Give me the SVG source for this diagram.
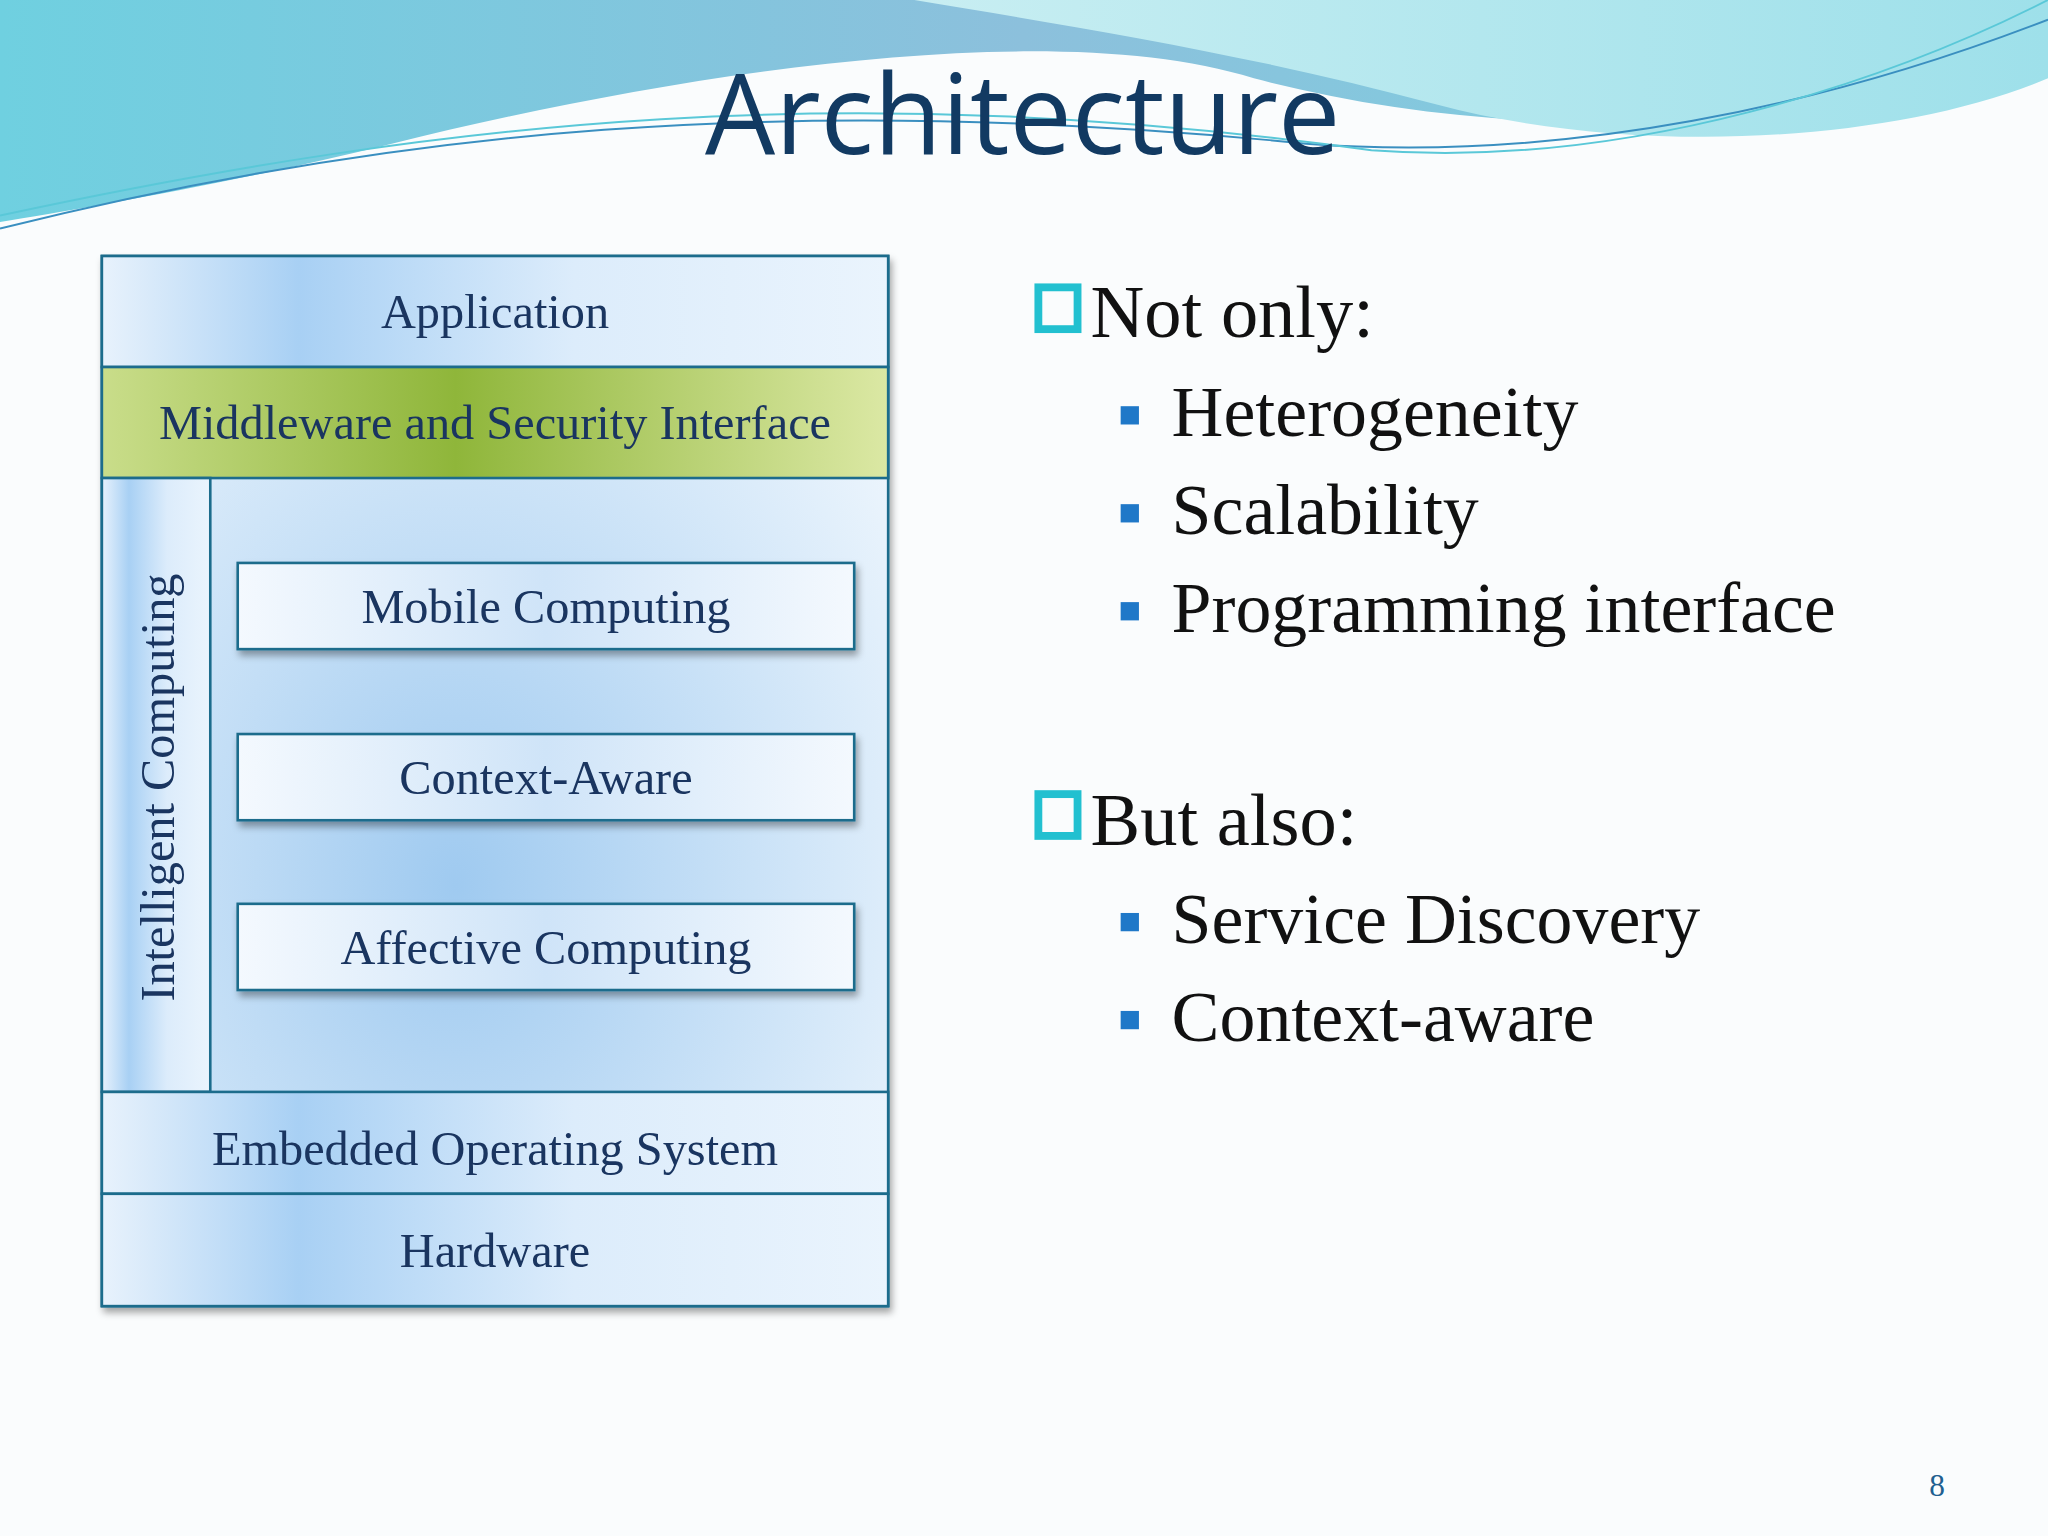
<svg xmlns="http://www.w3.org/2000/svg" width="2048" height="1536" viewBox="0 0 2048 1536">
<defs>
<linearGradient id="sky" x1="0" y1="0" x2="1" y2="0">
<stop offset="0" stop-color="#6fd0e0"/><stop offset="0.5" stop-color="#8cc0dc"/><stop offset="1" stop-color="#78d4e0"/>
</linearGradient>
<linearGradient id="wave2" x1="0" y1="0" x2="1" y2="0">
<stop offset="0" stop-color="#c8eef2"/><stop offset="1" stop-color="#9ee0ea"/>
</linearGradient>
<radialGradient id="blue" cx="0.45" cy="0.6" r="0.7">
<stop offset="0" stop-color="#9fcaf0"/><stop offset="1" stop-color="#eef6fd"/>
</radialGradient>
<linearGradient id="band" x1="0" y1="0" x2="1" y2="0">
<stop offset="0" stop-color="#e8f2fc"/><stop offset="0.25" stop-color="#a8d0f4"/><stop offset="0.6" stop-color="#dcecfb"/><stop offset="1" stop-color="#eaf4fd"/>
</linearGradient>
<linearGradient id="green" x1="0" y1="0" x2="1" y2="0">
<stop offset="0" stop-color="#c9dd8a"/><stop offset="0.45" stop-color="#8fb63a"/><stop offset="1" stop-color="#dbe8a4"/>
</linearGradient>
<linearGradient id="inner" x1="0" y1="0" x2="1" y2="0">
<stop offset="0" stop-color="#f4f9fe"/><stop offset="0.5" stop-color="#cfe4f8"/><stop offset="1" stop-color="#f4f9fe"/>
</linearGradient>
<filter id="sh" x="-5%" y="-10%" width="110%" height="130%"><feDropShadow dx="2" dy="4" stdDeviation="3" flood-opacity="0.35"/></filter>
<style>
.bx{stroke:#1c6c8c;stroke-width:2}
.lt{font-family:"Liberation Serif","DejaVu Serif",serif;font-size:37px;fill:#1a3560;text-anchor:middle}
.rt{font-family:"Liberation Serif","DejaVu Serif",serif;fill:#111}
.bul{fill:#1f78c8}
.chk{fill:none;stroke:#22c0d0;stroke-width:6}
</style>
</defs>
<rect width="2048" height="1536" fill="#fafcfd"/>
<g transform="scale(1.30612)">
<g id="banner">
<path d="M0 0 H1568 V20 C1400 110 1150 110 960 60 C800 10 500 60 300 110 C180 140 60 160 0 170 Z" fill="url(#sky)"/>
<path d="M700 0 H1568 V60 C1450 110 1250 120 1100 80 C950 40 820 20 700 0 Z" fill="url(#wave2)"/>
<path d="M0 175 C300 100 600 70 1000 110 C1200 125 1400 80 1568 15" fill="none" stroke="#3a8fc0" stroke-width="1.5"/>
<path d="M0 165 C350 90 650 60 1050 115 C1250 130 1450 60 1568 0" fill="none" stroke="#5ac8d8" stroke-width="1.5"/>
</g>
<text x="783" y="118" text-anchor="middle" font-family="'Open Sans','Noto Sans',sans-serif" font-size="85" fill="#123a62">Architecture</text>
<g id="stack" filter="url(#sh)">
<rect x="78" y="196" width="602" height="804" fill="url(#blue)" class="bx"/>
</g>
<g id="application"><rect x="78" y="196" width="602" height="85" fill="url(#band)" class="bx"/><text class="lt" x="379" y="251">Application</text></g>
<g id="middleware"><rect x="78" y="281" width="602" height="85" fill="url(#green)" class="bx"/><text class="lt" x="379" y="336">Middleware and Security Interface</text></g>
<g id="intelligent"><rect x="78" y="366" width="83" height="470" fill="url(#band)" class="bx"/><text class="lt" transform="translate(133 603) rotate(-90)">Intelligent Computing</text></g>
<g id="mobile"><rect x="182" y="431" width="472" height="66" fill="url(#inner)" class="bx" filter="url(#sh)"/><text class="lt" x="418" y="477">Mobile Computing</text></g>
<g id="context"><rect x="182" y="562" width="472" height="66" fill="url(#inner)" class="bx" filter="url(#sh)"/><text class="lt" x="418" y="608">Context-Aware</text></g>
<g id="affective"><rect x="182" y="692" width="472" height="66" fill="url(#inner)" class="bx" filter="url(#sh)"/><text class="lt" x="418" y="738">Affective Computing</text></g>
<g id="embedded"><rect x="78" y="836" width="602" height="78" fill="url(#band)" class="bx"/><text class="lt" x="379" y="892">Embedded Operating System</text></g>
<g id="hardware"><rect x="78" y="914" width="602" height="86" fill="url(#band)" class="bx"/><text class="lt" x="379" y="970">Hardware</text></g>
<g id="connectors"/>
<g id="list">
<rect class="chk" x="795" y="220" width="30" height="32"/>
<text class="rt" x="835" y="258" font-size="57">Not only:</text>
<rect class="bul" x="858" y="311" width="14" height="14"/><text class="rt" x="897" y="334" font-size="55">Heterogeneity</text>
<rect class="bul" x="858" y="386" width="14" height="14"/><text class="rt" x="897" y="409" font-size="55">Scalability</text>
<rect class="bul" x="858" y="461" width="14" height="14"/><text class="rt" x="897" y="484" font-size="55">Programming interface</text>
<rect class="chk" x="795" y="608" width="30" height="32"/>
<text class="rt" x="835" y="647" font-size="57">But also:</text>
<rect class="bul" x="858" y="699" width="14" height="14"/><text class="rt" x="897" y="722" font-size="55">Service Discovery</text>
<rect class="bul" x="858" y="774" width="14" height="14"/><text class="rt" x="897" y="797" font-size="55">Context-aware</text>
</g>
<text x="1483" y="1145" text-anchor="middle" font-family="'Liberation Serif',serif" font-size="24" fill="#1f6090">8</text>
</g>
</svg>
